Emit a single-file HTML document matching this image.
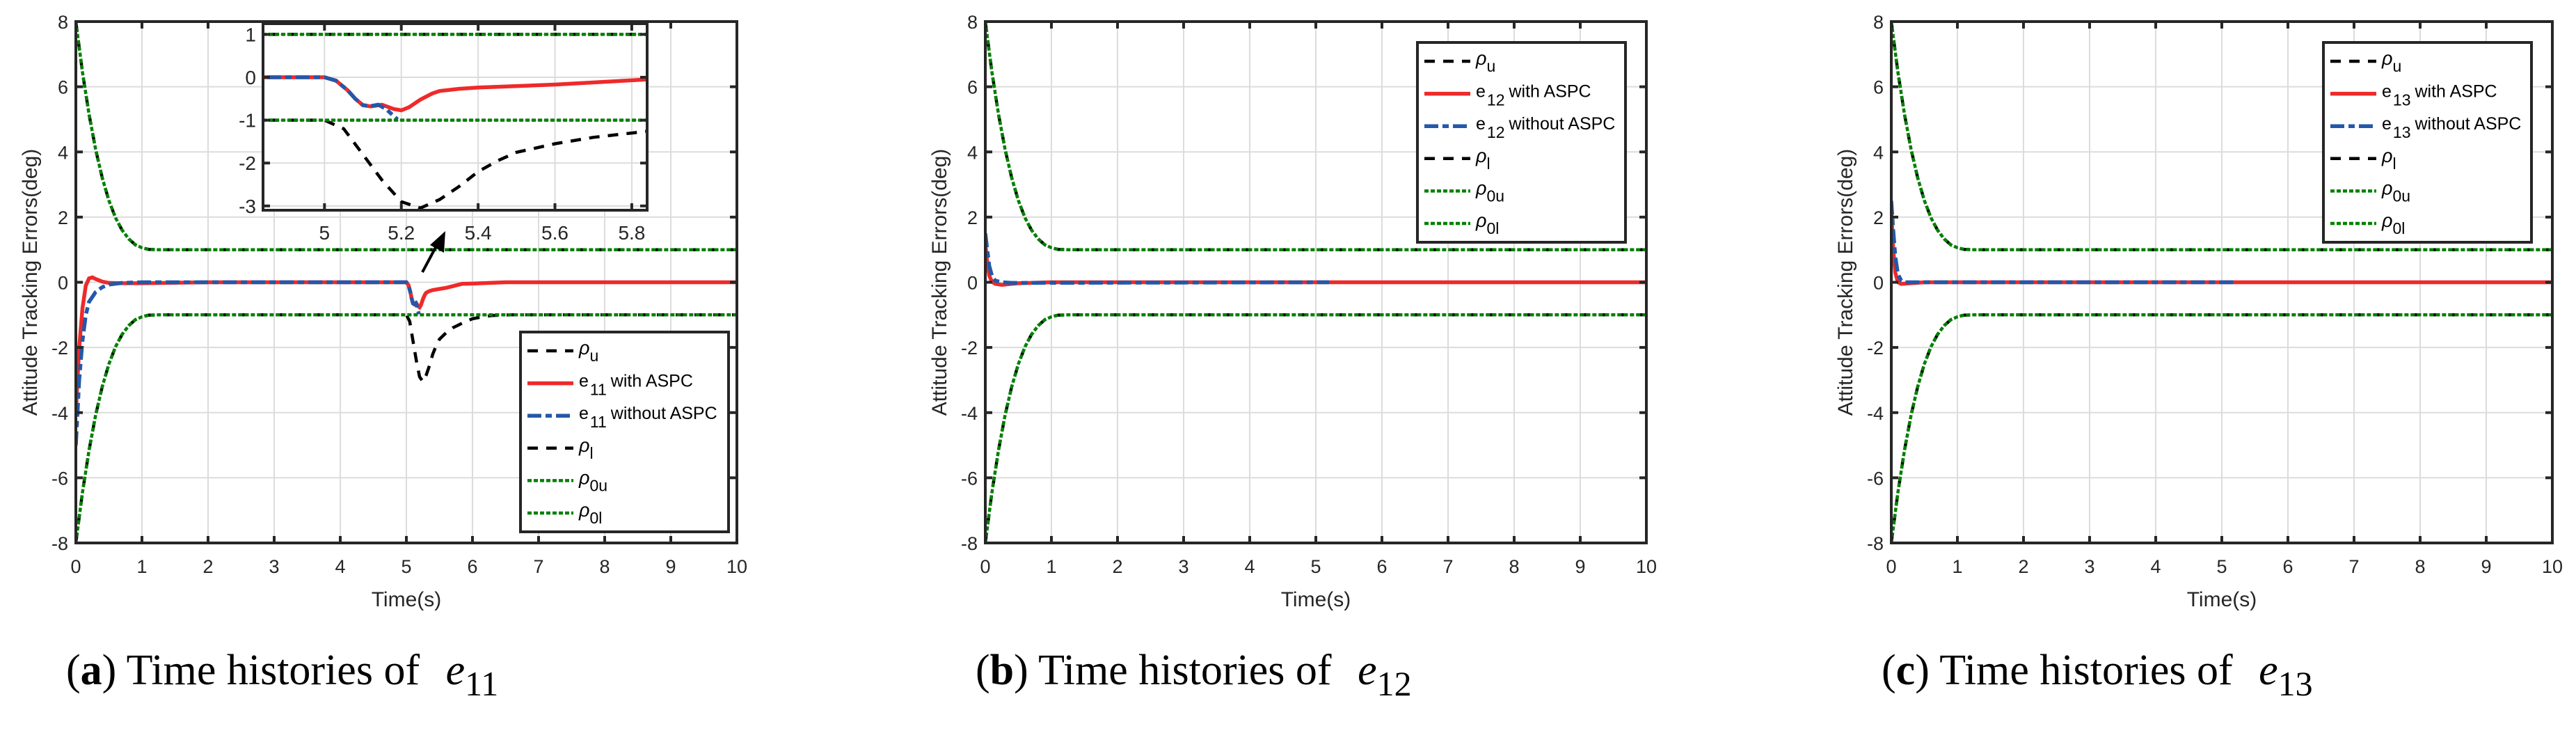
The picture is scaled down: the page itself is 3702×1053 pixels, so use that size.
<!DOCTYPE html>
<html><head><meta charset="utf-8"><style>
html,body{margin:0;padding:0;background:#fff;}
svg{display:block;}
</style></head><body>
<svg id="fig" width="3702" height="1053" viewBox="0 0 3702 1053" xmlns="http://www.w3.org/2000/svg" font-family="Liberation Sans, Arial, sans-serif">
<rect x="0" y="0" width="3702" height="1053" fill="#fff"/>
</svg>
<script>
// ---- data arrays ----
const boundT = [0, 0.1, 0.2, 0.3, 0.4, 0.5, 0.6, 0.7, 0.8, 0.9, 1.0, 1.1, 1.25, 10];
const boundUpper = [8, 6.45, 5.15, 4.07, 3.20, 2.51, 1.98, 1.60, 1.33, 1.15, 1.06, 1.01, 1, 1];
const boundLower = [-8, -6.45, -5.15, -4.07, -3.20, -2.51, -1.98, -1.60, -1.33, -1.15, -1.06, -1.01, -1, -1];
const rhoLowerAT = [0, 0.1, 0.2, 0.3, 0.4, 0.5, 0.6, 0.7, 0.8, 0.9, 1.0, 1.1, 1.25, 5.0, 5.05, 5.1, 5.15, 5.2, 5.25, 5.3, 5.35, 5.4, 5.45, 5.5, 5.6, 5.7, 5.8, 5.9, 6.0, 6.15, 6.3, 6.6, 10];
const rhoLowerAV = [-8, -6.45, -5.15, -4.07, -3.20, -2.51, -1.98, -1.60, -1.33, -1.15, -1.06, -1.01, -1, -1, -1.2, -1.8, -2.4, -2.9, -3.05, -2.85, -2.55, -2.2, -1.95, -1.75, -1.55, -1.4, -1.3, -1.2, -1.12, -1.06, -1.02, -1.0, -1.0];
const e11WithT = [0, 0.05, 0.1, 0.15, 0.2, 0.25, 0.3, 0.4, 0.5, 0.7, 1.0, 2.0, 5.0, 5.03, 5.06, 5.08, 5.1, 5.12, 5.15, 5.18, 5.2, 5.22, 5.25, 5.28, 5.3, 5.35, 5.4, 5.6, 5.84, 6.0, 6.5, 10];
const e11WithV = [-4, -2, -0.8, -0.1, 0.12, 0.15, 0.1, 0.02, -0.02, -0.03, -0.03, 0, 0, -0.08, -0.3, -0.5, -0.65, -0.68, -0.64, -0.74, -0.77, -0.7, -0.52, -0.38, -0.32, -0.27, -0.24, -0.17, -0.05, -0.04, 0, 0];
const e11WithoutT = [0, 0.05, 0.1, 0.15, 0.2, 0.3, 0.4, 0.5, 0.7, 1.0, 5.0, 5.03, 5.06, 5.08, 5.1, 5.12, 5.14, 5.16, 5.18, 5.19];
const e11WithoutV = [-5, -3, -1.8, -1.0, -0.6, -0.3, -0.15, -0.07, -0.02, 0, 0, -0.08, -0.3, -0.5, -0.65, -0.67, -0.64, -0.74, -0.9, -0.98];
const e12WithT = [0, 0.03, 0.06, 0.1, 0.15, 0.25, 0.4, 0.5, 1.0, 10];
const e12WithV = [1.2, 0.6, 0.2, 0.02, -0.05, -0.08, -0.05, -0.03, 0, 0];
const e12WithoutT = [0, 0.03, 0.06, 0.1, 0.15, 0.25, 0.4, 5.2];
const e12WithoutV = [1.5, 1.0, 0.5, 0.2, 0.05, 0.0, -0.02, 0];
const e13WithT = [0, 0.03, 0.06, 0.1, 0.15, 0.3, 0.5, 10];
const e13WithV = [2.2, 1.0, 0.3, 0.0, -0.05, -0.03, 0, 0];
const e13WithoutT = [0, 0.03, 0.06, 0.1, 0.15, 0.2, 5.2];
const e13WithoutV = [2.5, 1.6, 0.8, 0.25, 0.05, 0, 0];
const xTicks = [0, 1, 2, 3, 4, 5, 6, 7, 8, 9, 10];
const xTickLabels = ["0", "1", "2", "3", "4", "5", "6", "7", "8", "9", "10"];
const yTicks = [8, 6, 4, 2, 0, -2, -4, -6, -8];
const yTickLabels = ["8", "6", "4", "2", "0", "-2", "-4", "-6", "-8"];
const insetXTicks = [5, 5.2, 5.4, 5.6, 5.8];
const insetXTickLabels = ["5", "5.2", "5.4", "5.6", "5.8"];
const insetYTicks = [1, 0, -1, -2, -3];
const insetYTickLabels = ["1", "0", "-1", "-2", "-3"];

const NS = "http://www.w3.org/2000/svg";
const svg = document.getElementById("fig");
function mk(tag, attrs, parent) {
  const e = document.createElementNS(NS, tag);
  for (const k in attrs) e.setAttribute(k, attrs[k]);
  (parent || svg).appendChild(e);
  return e;
}
function linScale(d0, d1, r0, r1) { return v => r0 + (v - d0) / (d1 - d0) * (r1 - r0); }
function pathD(xs, ys, sx, sy) {
  let d = "";
  for (let i = 0; i < xs.length; i++) d += (i ? "L" : "M") + sx(xs[i]).toFixed(1) + "," + sy(ys[i]).toFixed(1);
  return d;
}
const STY = {
  rho: {stroke: "#000", "stroke-width": 4.5, "stroke-dasharray": "15 12", fill: "none"},
  red: {stroke: "#EE2A2A", "stroke-width": 5.5, fill: "none"},
  blue: {stroke: "#2458A8", "stroke-width": 5.5, "stroke-dasharray": "20 6 9 6", fill: "none"},
  green: {stroke: "#008000", "stroke-width": 4.5, "stroke-dasharray": "6 3", fill: "none"}
};
function styled(s) { return Object.assign({}, s); }

function drawAxes(g, L, R, T, B, sx, sy, xt, xtl, yt, ytl, fs, labelOffsetY, yLabelRight, namePrefix) {
  for (let i = 0; i < xt.length; i++) {
    const x = sx(xt[i]);
    const gl = mk("line", {x1: x, y1: T, x2: x, y2: B, stroke: "#dcdcdc", "stroke-width": 2}, g);
    
    
  }
  for (let i = 0; i < yt.length; i++) {
    const y = sy(yt[i]);
    const gl = mk("line", {x1: L, y1: y, x2: R, y2: y, stroke: "#dcdcdc", "stroke-width": 2}, g);
    
    
  }
}
function drawFrame(g, L, R, T, B, sx, sy, xt, xtl, yt, ytl, fs, labelOffsetY, yLabelRight, namePrefix) {
  const fr = mk("rect", {x: L, y: T, width: R - L, height: B - T, fill: "none", stroke: "#262626", "stroke-width": 4}, g);
  
  
  for (let i = 0; i < xt.length; i++) {
    const x = sx(xt[i]);
    mk("line", {x1: x, y1: B, x2: x, y2: B - 10, stroke: "#262626", "stroke-width": 4}, g);
    mk("line", {x1: x, y1: T, x2: x, y2: T + 10, stroke: "#262626", "stroke-width": 4}, g);
    const t = mk("text", {x: x, y: B + labelOffsetY, "font-size": fs, fill: "#262626", "text-anchor": "middle"}, g);
    t.textContent = xtl[i];
    
    
  }
  for (let i = 0; i < yt.length; i++) {
    const y = sy(yt[i]);
    mk("line", {x1: L, y1: y, x2: L + 10, y2: y, stroke: "#262626", "stroke-width": 4}, g);
    mk("line", {x1: R, y1: y, x2: R - 10, y2: y, stroke: "#262626", "stroke-width": 4}, g);
    const t = mk("text", {x: yLabelRight, y: y + 10, "font-size": fs, fill: "#262626", "text-anchor": "end"}, g);
    t.textContent = ytl[i];
    
    
  }
}

function legend(g, lx, ly, sub) {
  const box = mk("rect", {x: lx, y: ly, width: 299, height: 287, fill: "#fff", stroke: "#262626", "stroke-width": 4}, g);
  
  
  const entries = [
    {s: STY.rho, rho: "u"}, {s: STY.red, e: "with ASPC"}, {s: STY.blue, e: "without ASPC"},
    {s: STY.rho, rho: "l"}, {s: STY.green, rho: "0u"}, {s: STY.green, rho: "0l"}
  ];
  entries.forEach((en, i) => {
    const y = ly + 27 + i * 46.6;
    const eg = mk("g", {}, g);
    
    
    mk("line", Object.assign(styled(en.s), {x1: lx + 10, y1: y, x2: lx + 76, y2: y}), eg);
    const t = mk("text", {x: lx + 84, y: y + 5, "font-size": 25, fill: "#000"}, eg);
    if (en.rho) {
      const a = mk("tspan", {"font-style": "italic", "font-size": 27}, t); a.textContent = "ρ";
      const b = mk("tspan", {dy: 10, "font-size": 23}, t); b.textContent = en.rho;
    } else {
      const a = mk("tspan", {}, t); a.textContent = "e";
      const b = mk("tspan", {dy: 12, dx: 2, "font-size": 23}, t); b.textContent = sub;
      const c = mk("tspan", {dy: -12, dx: 6}, t); c.textContent = en.e;
    }
  });
}

function panel(idx, L, withT, withV, withoutT, withoutV, lowT, lowV, legX, legY, sub, capLetter) {
  const R = L + 950, T = 31, B = 780;
  const pre = "panel-" + capLetter + "-";
  const g = mk("g", {});
  
  
  const sx = linScale(0, 10, L, R), sy = linScale(8, -8, T, B);
  drawAxes(g, L, R, T, B, sx, sy, xTicks, xTickLabels, yTicks, yTickLabels, 27, 43, L - 11, pre);
  const cid = "clip" + idx;
  const cp = mk("clipPath", {id: cid}, g);
  mk("rect", {x: L, y: T - 4, width: R - L, height: B - T + 8}, cp);
  const cg = mk("g", {"clip-path": "url(#" + cid + ")"}, g);
  const series = [
    ["rho-upper-line", boundT, boundUpper, STY.rho],
    ["with-aspc-line", withT, withV, STY.red],
    ["without-aspc-line", withoutT, withoutV, STY.blue],
    ["rho-lower-line", lowT, lowV, STY.rho],
    ["rho0-upper-line", boundT, boundUpper, STY.green],
    ["rho0-lower-line", boundT, boundLower, STY.green]
  ];
  series.forEach(s => {
    const p = mk("path", Object.assign(styled(s[3]), {d: pathD(s[1], s[2], sx, sy)}), cg);
    
    
  });
  drawFrame(g, L, R, T, B, sx, sy, xTicks, xTickLabels, yTicks, yTickLabels, 27, 43, L - 11, pre);
  const xl = mk("text", {x: (L + R) / 2, y: 871, "font-size": 30, fill: "#262626", "text-anchor": "middle"}, g);
  xl.textContent = "Time(s)";
  
  
  const yl = mk("text", {x: 0, y: 0, "font-size": 30, fill: "#262626", "text-anchor": "middle", transform: "translate(" + (L - 56) + "," + ((T + B) / 2) + ") rotate(-90)"}, g);
  yl.textContent = "Attitude Tracking Errors(deg)";
  
  
  legend(g, legX, legY, sub);
  const cap = mk("text", {x: L - 14, y: 983, "font-size": 62, fill: "#000", "font-family": "Liberation Serif, Times New Roman, serif"}, g);
  
  
  const c1 = mk("tspan", {}, cap); c1.textContent = "(";
  const c2 = mk("tspan", {"font-weight": "bold"}, cap); c2.textContent = capLetter;
  const c3 = mk("tspan", {}, cap); c3.textContent = ") Time histories of ";
  const c4 = mk("tspan", {"font-style": "italic", dx: 22}, cap); c4.textContent = "e";
  const c5 = mk("tspan", {"font-size": 50, dy: 16}, cap); c5.textContent = sub;
  return {g, sx, sy};
}

const rhoLowerBT = boundT, rhoLowerBV = boundLower;
panel(0, 109, e11WithT, e11WithV, e11WithoutT, e11WithoutV, rhoLowerAT, rhoLowerAV, 748, 477, "11", "a");
panel(1, 1416, e12WithT, e12WithV, e12WithoutT, e12WithoutV, rhoLowerBT, rhoLowerBV, 2037, 61, "12", "b");
panel(2, 2718, e13WithT, e13WithV, e13WithoutT, e13WithoutV, rhoLowerBT, rhoLowerBV, 3339, 61, "13", "c");

// ---- inset (panel a zoom) ----
(function () {
  const L = 378, R = 930, T = 34, B = 302;
  const g = mk("g", {});
  
  
  mk("rect", {x: L, y: T, width: R - L, height: B - T, fill: "#fff"}, g);
  const sx = linScale(4.84, 5.84, L, R), sy = linScale(1.25, -3.1, T, B);
  drawAxes(g, L, R, T, B, sx, sy, insetXTicks, insetXTickLabels, insetYTicks, insetYTickLabels, 28, 42, L - 10, "inset-");
  const cp = mk("clipPath", {id: "clipInset"}, g);
  mk("rect", {x: L, y: T, width: R - L, height: B - T}, cp);
  const cg = mk("g", {"clip-path": "url(#clipInset)"}, g);
  const series = [
    ["inset-rho-upper-line", boundT, boundUpper, STY.rho],
    ["inset-with-aspc-line", e11WithT, e11WithV, STY.red],
    ["inset-without-aspc-line", e11WithoutT, e11WithoutV, STY.blue],
    ["inset-rho-lower-line", rhoLowerAT, rhoLowerAV, STY.rho],
    ["inset-rho0-upper-line", boundT, boundUpper, STY.green],
    ["inset-rho0-lower-line", boundT, boundLower, STY.green]
  ];
  series.forEach(s => {
    const p = mk("path", Object.assign(styled(s[3]), {d: pathD(s[1], s[2], sx, sy)}), cg);
    
    
  });
  drawFrame(g, L, R, T, B, sx, sy, insetXTicks, insetXTickLabels, insetYTicks, insetYTickLabels, 28, 42, L - 10, "inset-");
  const ar = mk("g", {}, svg);
  
  
  mk("line", {x1: 607, y1: 391, x2: 630, y2: 348, stroke: "#000", "stroke-width": 4}, ar);
  mk("polygon", {points: "640,332 638,363 618,352", fill: "#000"}, ar);
})();
</script>
</body></html>
